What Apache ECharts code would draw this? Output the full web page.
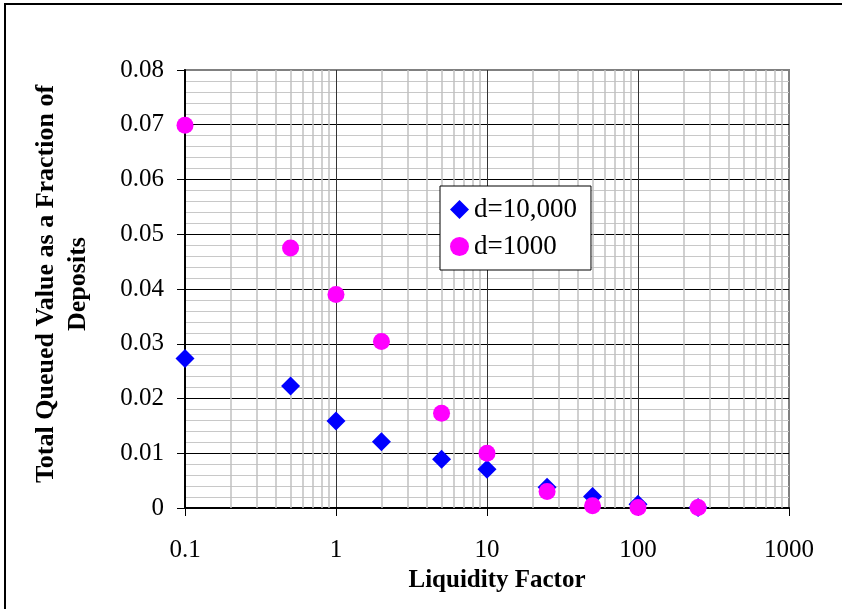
<!DOCTYPE html>
<html>
<head>
<meta charset="UTF-8">
<title>Liquidity Factor</title>
<script src="https://cdn.jsdelivr.net/npm/echarts@6/dist/echarts.min.js"></script>
<style>
html, body { margin: 0; padding: 0; background: #fff; }
</style>
</head>
<body>
<div id="main" style="width: 842px;height:609px;"></div>
<script type="text/javascript">
// data
var liquidity = [0.1, 0.5, 1, 2, 5, 10, 25, 50, 100, 250];
var d10000 = [0.0273, 0.0223, 0.0159, 0.0121, 0.0089, 0.0071, 0.0038, 0.0021, 0.0007, 0.0001];
var d1000 = [0.0699, 0.0475, 0.0390, 0.0304, 0.0173, 0.0100, 0.0030, 0.0004, 0.0001, 0.0001];
var xTicks = [0.1, 1, 10, 100, 1000];
var yTicks = [0, 0.01, 0.02, 0.03, 0.04, 0.05, 0.06, 0.07, 0.08];

// minor log grid lines 2..9 of each decade
var minorX = [];
for (var i = 0; i < xTicks.length - 1; i++) {
    for (var k = 2; k <= 9; k++) {
        minorX.push({ xAxis: +(xTicks[i] * k).toPrecision(3) });
    }
}

function pairs(xs, ys) {
    return xs.map(function (x, i) { return [x, ys[i]]; });
}

var font = 'Liberation Serif';
var myChart = echarts.init(document.getElementById('main'));

var option = {
    animation: false,
    backgroundColor: '#fff',
    grid: {
        left: 185, right: 53, top: 70, bottom: 101,
        outerBoundsMode: 'none',
        show: true,
        borderColor: '#808080',
        borderWidth: 2,
        backgroundColor: 'transparent'
    },
    graphic: [
        {
            type: 'rect',
            shape: { x: 5, y: 4, width: 900, height: 700 },
            style: { fill: 'none', stroke: '#000', lineWidth: 2 },
            silent: true
        },
        {
            type: 'text',
            x: 62, y: 284,
            rotation: Math.PI / 2,
            style: {
                text: 'Total Queued Value as a Fraction of\nDeposits',
                font: 'bold 26px "Liberation Serif"',
                fill: '#000',
                align: 'center',
                verticalAlign: 'middle',
                lineHeight: 32
            }
        },
        {
            type: 'text',
            x: 497, y: 581,
            style: {
                text: 'Liquidity Factor',
                font: 'bold 25px "Liberation Serif"',
                fill: '#000',
                align: 'center',
                verticalAlign: 'middle'
            }
        }
    ],
    legend: {
        orient: 'vertical',
        left: 440,
        top: 186,
        width: 147,
        padding: [10, 14, 10, 10],
        itemGap: 10,
        itemWidth: 19,
        itemHeight: 19,
        borderColor: '#000',
        borderWidth: 1,
        backgroundColor: '#fff',
        textStyle: { fontFamily: font, fontSize: 27, color: '#000' },
        data: [
            { name: 'd=10,000', icon: 'diamond' },
            { name: 'd=1000', icon: 'circle' }
        ]
    },
    xAxis: {
        type: 'log',
        logBase: 10,
        min: 0.1,
        max: 1000,
        axisLine: { lineStyle: { color: '#000', width: 2 } },
        axisTick: { show: true, inside: false, length: 8, lineStyle: { color: '#000', width: 1 } },
        axisLabel: {
            margin: 30,
            fontFamily: font, fontSize: 25, color: '#000',
            formatter: function (v) { return v < 1 ? v.toFixed(1) : String(Math.round(v)); }
        },
        splitLine: { show: true, showMaxLine: false, lineStyle: { color: '#333', width: 1 } },
        minorTick: { show: false },
        minorSplitLine: { show: false }
    },
    yAxis: {
        type: 'value',
        min: 0,
        max: 0.08,
        interval: 0.01,
        axisLine: { show: true, lineStyle: { color: '#000', width: 2 } },
        axisTick: { show: true, inside: false, length: 8, lineStyle: { color: '#000', width: 1 } },
        axisLabel: {
            margin: 21,
            fontFamily: font, fontSize: 25, color: '#000',
            formatter: function (v) { return v === 0 ? '0' : v.toFixed(2); }
        },
        splitLine: { show: true, showMaxLine: false, lineStyle: { color: '#000', width: 1 } },
        minorTick: { show: false, splitNumber: 5 },
        minorSplitLine: { show: true, lineStyle: { color: '#c8c8c8', width: 1 } }
    },
    series: [
        {
            name: 'minorgrid',
            type: 'scatter',
            silent: true,
            data: [],
            markLine: {
                silent: true,
                z: 1,
                symbol: ['none', 'none'],
                label: { show: false },
                lineStyle: { color: '#c0c0c0', type: 'solid', width: 1.5 },
                data: minorX
            }
        },
        {
            name: 'd=10,000',
            type: 'scatter',
            z: 3,
            symbol: 'diamond',
            symbolSize: 19,
            itemStyle: { color: '#0000ff', opacity: 1 },
            data: pairs(liquidity, d10000)
        },
        {
            name: 'd=1000',
            type: 'scatter',
            z: 4,
            symbol: 'circle',
            symbolSize: 17,
            itemStyle: { color: '#ff00ff', opacity: 1 },
            data: pairs(liquidity, d1000)
        }
    ]
};
myChart.setOption(option);
</script>
</body>
</html>
